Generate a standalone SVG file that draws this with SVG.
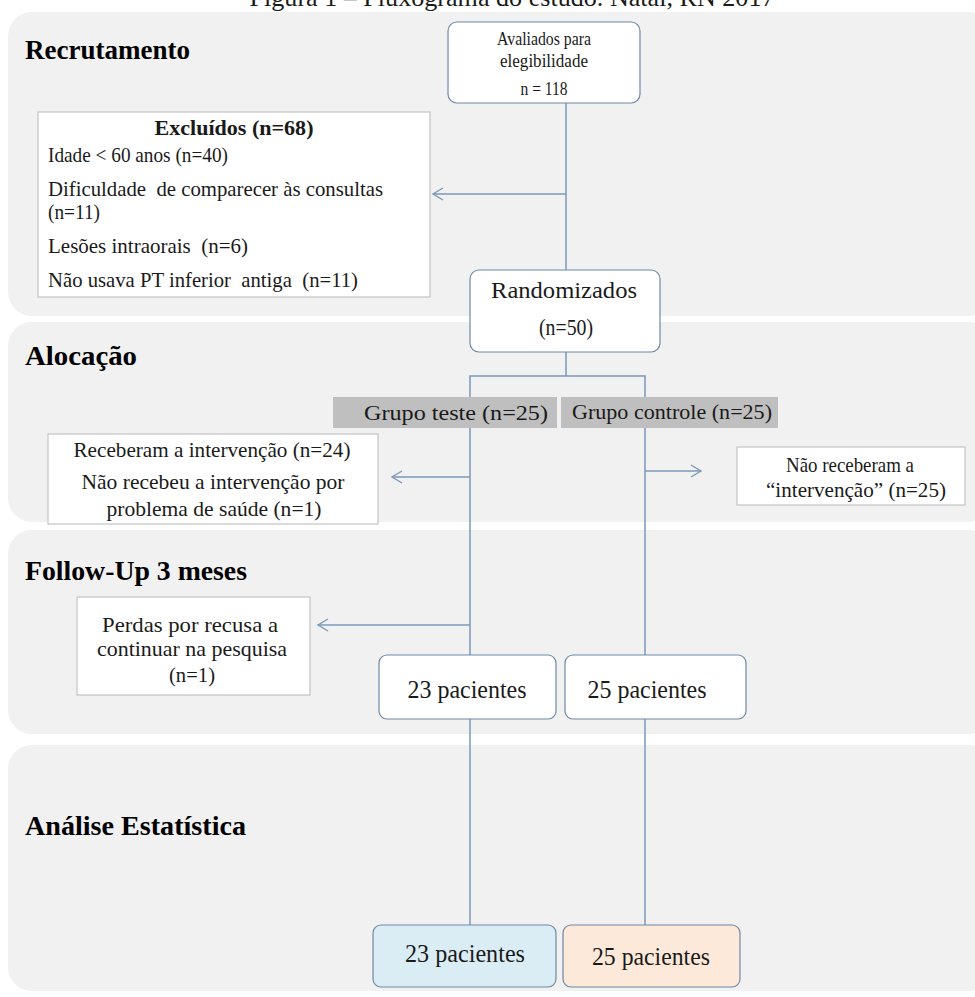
<svg xmlns="http://www.w3.org/2000/svg" width="975" height="997" viewBox="0 0 975 997">
<defs>
<style>
.panel{fill:#f1f1f1;}
text{font-family:"Liberation Serif","Times New Roman",serif;fill:#1a1a1a;}
.head{font-weight:bold;font-size:28px;fill:#000;}
.t{font-size:22px;}
.tc{font-size:22px;text-anchor:middle;}
.rbox{fill:#fff;stroke:#6f88a6;stroke-width:1.2;}
.sbox{fill:#fff;stroke:#c4c4c4;stroke-width:1.2;}
.gbox{fill:#bfbfbf;}
.conn{stroke:#7b98ba;stroke-width:1.5;fill:none;}
</style>
<marker id="arr" markerUnits="userSpaceOnUse" markerWidth="14" markerHeight="14" viewBox="-12 -7 14 14" refX="0" refY="0" orient="auto">
<path d="M-10,-6 L0,0 L-10,6" fill="none" stroke="#7b98ba" stroke-width="1.4"/>
</marker>
</defs>
<rect width="975" height="997" fill="#fff"/>
<text x="512" y="6" class="tc" style="font-size:26px" textLength="525" lengthAdjust="spacingAndGlyphs">Figura 1 – Fluxograma do estudo. Natal, RN 2017</text>

<g id="panels">
<rect class="panel" x="8" y="12" width="985" height="304" rx="24"/>
<rect class="panel" x="8" y="322" width="985" height="200" rx="24"/>
<rect class="panel" x="8" y="530" width="985" height="204" rx="24"/>
<rect class="panel" x="8" y="745" width="985" height="246" rx="24"/>
<text class="head" x="25" y="59" textLength="165" lengthAdjust="spacingAndGlyphs">Recrutamento</text>
<text class="head" x="25" y="365" textLength="112" lengthAdjust="spacingAndGlyphs">Alocação</text>
<text class="head" x="25" y="580" textLength="222" lengthAdjust="spacingAndGlyphs">Follow-Up 3 meses</text>
<text class="head" x="25" y="835" textLength="221" lengthAdjust="spacingAndGlyphs">Análise Estatística</text>
</g>

<g id="connectors">
<line class="conn" x1="566" y1="103" x2="566" y2="270"/>
<line class="conn" x1="566" y1="194" x2="433" y2="194" marker-end="url(#arr)"/>
<line class="conn" x1="566" y1="352" x2="566" y2="376"/>
<polyline class="conn" points="470,655 470,376 645,376 645,655"/>
<line class="conn" x1="470" y1="477" x2="392" y2="477" marker-end="url(#arr)"/>
<line class="conn" x1="645" y1="471" x2="701" y2="471" marker-end="url(#arr)"/>
<line class="conn" x1="470" y1="625" x2="318" y2="625" marker-end="url(#arr)"/>
<line class="conn" x1="470" y1="719" x2="470" y2="925"/>
<line class="conn" x1="645" y1="719" x2="645" y2="925"/>
</g>

<g id="avaliados">
<rect class="rbox" x="448" y="22" width="192" height="81" rx="9"/>
<text class="tc" x="544" y="45" style="font-size:19px" textLength="94" lengthAdjust="spacingAndGlyphs">Avaliados para</text>
<text class="tc" x="544" y="67" style="font-size:19px" textLength="88" lengthAdjust="spacingAndGlyphs">elegibilidade</text>
<text class="tc" x="544" y="95" style="font-size:19px" textLength="47" lengthAdjust="spacingAndGlyphs">n = 118</text>
</g>

<g id="excluidos">
<rect class="sbox" x="38" y="112" width="392" height="185"/>
<text class="tc" x="234" y="135" style="font-weight:bold;font-size:21px" textLength="159" lengthAdjust="spacingAndGlyphs">Excluídos (n=68)</text>
<text class="t" x="48" y="162" textLength="180" lengthAdjust="spacingAndGlyphs">Idade &lt; 60 anos (n=40)</text>
<text class="t" x="48" y="196" xml:space="preserve" textLength="335" lengthAdjust="spacingAndGlyphs">Dificuldade  de comparecer às consultas</text>
<text class="t" x="48" y="219" textLength="52" lengthAdjust="spacingAndGlyphs">(n=11)</text>
<text class="t" x="48" y="253" xml:space="preserve" textLength="200" lengthAdjust="spacingAndGlyphs">Lesões intraorais  (n=6)</text>
<text class="t" x="48" y="287" xml:space="preserve" textLength="310" lengthAdjust="spacingAndGlyphs">Não usava PT inferior  antiga  (n=11)</text>
</g>

<g id="randomizados">
<rect class="rbox" x="470" y="270" width="190" height="82" rx="9"/>
<text class="tc" x="564" y="298" style="font-size:24px" textLength="146" lengthAdjust="spacingAndGlyphs">Randomizados</text>
<text class="tc" x="566" y="335" style="font-size:24px" textLength="54" lengthAdjust="spacingAndGlyphs">(n=50)</text>
</g>

<g id="grupo-teste">
<rect class="gbox" x="333" y="397" width="224" height="31"/>
<text class="tc" x="456" y="420" textLength="184" lengthAdjust="spacingAndGlyphs">Grupo teste (n=25)</text>
</g>
<g id="grupo-controle">
<rect class="gbox" x="561" y="397" width="217" height="31"/>
<text class="tc" x="672" y="419" textLength="200" lengthAdjust="spacingAndGlyphs">Grupo controle (n=25)</text>
</g>

<g id="receberam">
<rect class="sbox" x="48" y="434" width="330" height="90"/>
<text class="tc" x="212" y="457" textLength="277" lengthAdjust="spacingAndGlyphs">Receberam a intervenção  (n=24)</text>
<text class="tc" x="213" y="489" textLength="263" lengthAdjust="spacingAndGlyphs">Não recebeu a intervenção por</text>
<text class="tc" x="214" y="516" textLength="215" lengthAdjust="spacingAndGlyphs">problema de saúde (n=1)</text>
</g>

<g id="nao-receberam">
<rect class="sbox" x="737" y="447" width="228" height="58"/>
<text class="tc" x="850" y="472" textLength="128" lengthAdjust="spacingAndGlyphs">Não receberam a</text>
<text class="tc" x="856" y="497" textLength="180" lengthAdjust="spacingAndGlyphs">“intervenção”  (n=25)</text>
</g>

<g id="perdas">
<rect class="sbox" x="77" y="597" width="233" height="98"/>
<text class="tc" x="190" y="632" textLength="176" lengthAdjust="spacingAndGlyphs">Perdas por recusa a</text>
<text class="tc" x="192" y="656" textLength="190" lengthAdjust="spacingAndGlyphs">continuar na pesquisa</text>
<text class="tc" x="192" y="682" textLength="46" lengthAdjust="spacingAndGlyphs">(n=1)</text>
</g>

<g id="fu-teste">
<rect class="rbox" x="379" y="655" width="177" height="64" rx="8"/>
<text class="tc" x="467" y="698" style="font-size:25px" textLength="119" lengthAdjust="spacingAndGlyphs">23 pacientes</text>
</g>
<g id="fu-controle">
<rect class="rbox" x="565" y="655" width="181" height="64" rx="8"/>
<text class="tc" x="647" y="698" style="font-size:25px" textLength="119" lengthAdjust="spacingAndGlyphs">25 pacientes</text>
</g>

<g id="an-teste">
<rect class="rbox" x="373" y="925" width="183" height="62" rx="8" style="fill:#daedf4"/>
<text class="tc" x="465" y="962" style="font-size:25px" textLength="120" lengthAdjust="spacingAndGlyphs">23 pacientes</text>
</g>
<g id="an-controle">
<rect class="rbox" x="563" y="925" width="177" height="62" rx="8" style="fill:#fde9d9"/>
<text class="tc" x="651" y="965" style="font-size:25px" textLength="118" lengthAdjust="spacingAndGlyphs">25 pacientes</text>
</g>
</svg>
